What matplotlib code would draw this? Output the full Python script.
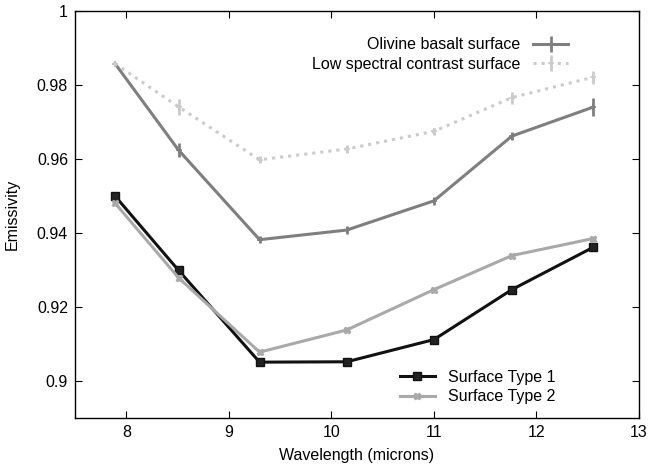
import numpy as np
import matplotlib
matplotlib.use('Agg')
import matplotlib.pyplot as plt

plt.rcParams['font.family'] = ['Liberation Sans', 'DejaVu Sans']
plt.rcParams['font.size'] = 11.5

wavelength = [7.89, 8.51, 9.30, 10.15, 11.0, 11.76, 12.55]

olivine = [0.9858, 0.9624, 0.9382, 0.9408, 0.9487, 0.9662, 0.9740]
olivine_err = [0.0, 0.0018, 0.001, 0.001, 0.001, 0.001, 0.0025]

low_contrast = [0.9858, 0.9741, 0.9598, 0.9627, 0.9675, 0.9766, 0.9821]
low_contrast_err = [0.0, 0.0022, 0.001, 0.001, 0.001, 0.0016, 0.0018]

type1 = [0.9500, 0.9299, 0.9051, 0.9052, 0.9112, 0.9247, 0.9361]
type2 = [0.9481, 0.9279, 0.9078, 0.9138, 0.9247, 0.9339, 0.9385]

xticks = [8, 9, 10, 11, 12, 13]
yticks = [0.9, 0.92, 0.94, 0.96, 0.98, 1.0]
ytick_labels = ['0.9', '0.92', '0.94', '0.96', '0.98', '1']

fig = plt.figure(figsize=(6.51, 4.69), dpi=100)
ax = fig.add_axes([0.1152, 0.1087, 0.8664, 0.8678])

c_oliv = '#7f7f7f'
c_low = '#cbcbcb'
c_t1 = '#111111'
c_t2 = '#a9a9a9'

h_oliv = ax.errorbar(wavelength, olivine, yerr=olivine_err, color=c_oliv, lw=2.2,
                     elinewidth=2, capsize=0, marker='+', ms=4, mew=1.2,
                     label='Olivine basalt surface')
h_low = ax.errorbar(wavelength, low_contrast, yerr=low_contrast_err, color=c_low, lw=2.2,
                    ls=':', elinewidth=2, capsize=0, marker='+', ms=4, mew=1.2,
                    label='Low spectral contrast surface')
h_t1, = ax.plot(wavelength, type1, color=c_t1, lw=2.2, marker='s', ms=6,
                mfc='#222222', mec=c_t1, label='Surface Type 1')
h_t2, = ax.plot(wavelength, type2, color=c_t2, lw=2.2, marker='X', ms=5,
                mec=c_t2, mfc=c_t2, label='Surface Type 2')

ax.set_xlim(7.5, 13)
ax.set_ylim(0.89, 1.0)
ax.set_xticks(xticks)
ax.set_xticklabels([str(t) for t in xticks])
ax.set_yticks(yticks)
ax.set_yticklabels(ytick_labels)
ax.tick_params(direction='in', length=5, top=True, right=True, pad=5)
for s in ax.spines.values():
    s.set_linewidth(1)

ax.set_xlabel('Wavelength (microns)', labelpad=6)
ax.set_ylabel('Emissivity', labelpad=12)

leg1 = ax.legend(handles=[h_oliv, h_low], loc='upper right', markerfirst=False,
                 frameon=False, handlelength=2.2, borderaxespad=0.6,
                 bbox_to_anchor=(0.903, 0.975), labelspacing=0.3)
ax.add_artist(leg1)
ax.legend(handles=[h_t1, h_t2], loc='lower left', frameon=False,
          handlelength=2.2, bbox_to_anchor=(0.55, -0.002), labelspacing=0.3)

fig.savefig('out.png', dpi=100)
